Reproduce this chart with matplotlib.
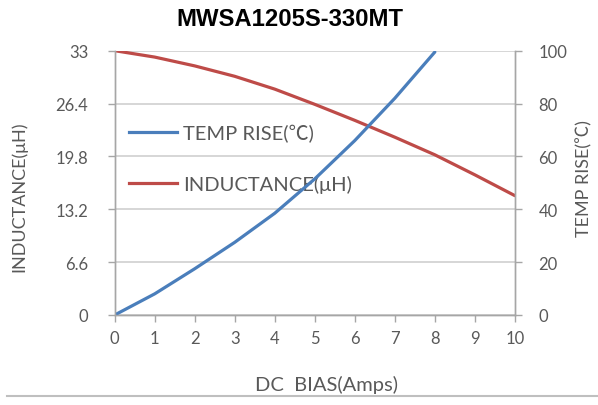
import matplotlib
matplotlib.use("Agg")
import matplotlib.pyplot as plt
from matplotlib.lines import Line2D

# Data
bias_ind = [0, 1, 2, 3, 4, 5, 6, 7, 8, 9, 10]
inductance = [33.0, 32.2, 31.1, 29.8, 28.2, 26.3, 24.3, 22.2, 20.0, 17.5, 14.9]
bias_temp = [0, 1, 2, 3, 4, 5, 6, 7, 8]
temp_rise = [0, 8, 17.5, 27.5, 38.5, 51.5, 66, 82, 99.5]

left_ticks = [0, 6.6, 13.2, 19.8, 26.4, 33]
left_labels = ["0", "6.6", "13.2", "19.8", "26.4", "33"]
right_ticks = [0, 20, 40, 60, 80, 100]
x_ticks = list(range(0, 11))

title = "MWSA1205S-330MT"
xlabel = "DC  BIAS(Amps)"
ylabel_left = "INDUCTANCE(\u03bcH)"
ylabel_right = "TEMP RISE(\u2103)"

FONT = ["Lato", "Noto Sans CJK SC", "DejaVu Sans"]
plt.rcParams["font.family"] = FONT
TXT = "#595959"
BLUE = "#4a7ebb"
RED = "#be4b48"
GRID = "#d0d0d0"
AX = "#a6a6a6"

fig = plt.figure(figsize=(5.98, 4.06), dpi=100)
ax = fig.add_axes([0.1918, 0.2217, 0.861 - 0.1918, 0.8727 - 0.2217])
ax2 = ax.twinx()

ax.plot(bias_ind, inductance, color=RED, lw=2.3, solid_capstyle="round")
ax2.plot(bias_temp, temp_rise, color=BLUE, lw=2.3, solid_capstyle="round")

ax.set_xlim(0, 10)
ax.set_ylim(0, 33)
ax2.set_ylim(0, 100)
ax.set_xticks(x_ticks)
ax.set_yticks(left_ticks)
ax.set_yticklabels(left_labels)
ax2.set_yticks(right_ticks)

ax.yaxis.grid(True, color=GRID, lw=1.2)
ax.set_axisbelow(True)

for a in (ax, ax2):
    a.spines["top"].set_visible(False)
    for s in ("left", "right", "bottom"):
        a.spines[s].set_color(AX)
        a.spines[s].set_linewidth(1.0)
    a.tick_params(colors=TXT, labelsize=12, length=5, width=1.0, color=AX)
ax.tick_params(axis="y", pad=14)
ax2.tick_params(axis="y", pad=12)
ax.tick_params(axis="x", pad=6)

ax.set_xlabel(xlabel, color=TXT, fontsize=14.5)
ax.xaxis.set_label_coords(0.53, -0.228)
ax.set_ylabel(ylabel_left, color=TXT, fontsize=13)
ax.yaxis.set_label_coords(-0.218, 0.45)
ax2.set_ylabel(ylabel_right, color=TXT, fontsize=13)
ax2.yaxis.set_label_coords(1.152, 0.52)

fig.text(0.484, 0.952, title, ha="center", va="center", fontsize=17.2,
         fontweight="bold", family=["Liberation Sans", "DejaVu Sans"], color="black")

handles = [Line2D([], [], color=BLUE, lw=2.3), Line2D([], [], color=RED, lw=2.3)]
leg = ax.legend(handles, ["TEMP RISE(\u2103)", "INDUCTANCE(\u03bcH)"],
                loc="upper left", bbox_to_anchor=(0.015, 0.755), frameon=False,
                fontsize=14.5, handlelength=2.4, handletextpad=0.3,
                labelspacing=1.65, borderaxespad=0)
for t in leg.get_texts():
    t.set_color(TXT)

fig.add_artist(Line2D([7 / 598, 1.0], [1 - 397 / 406] * 2, color="#bfbfbf", lw=1.5,
                      transform=fig.transFigure))

fig.savefig("out.png", dpi=100)
